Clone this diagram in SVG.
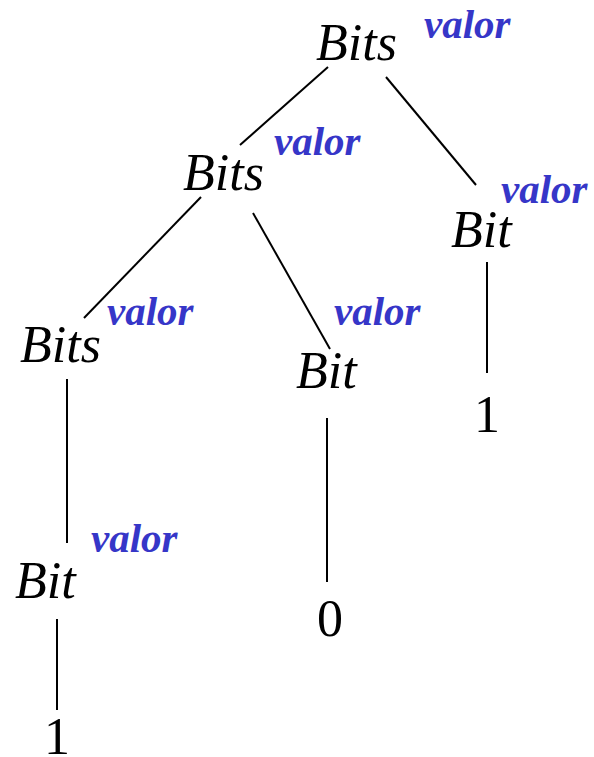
<svg xmlns="http://www.w3.org/2000/svg" width="594" height="757" viewBox="0 0 594 757">
  <style>
    .sym { font-family: "Liberation Serif", "Times New Roman", serif; font-style: italic; font-size: 52px; fill: #000; }
    .leaf { font-family: "Liberation Serif", "Times New Roman", serif; font-size: 52px; fill: #000; text-anchor: middle; }
    .attr { font-family: "Liberation Serif", "Times New Roman", serif; font-style: italic; font-weight: bold; font-size: 41px; fill: #3636c8; }
    .edge { stroke: #000; stroke-width: 2; fill: none; }
  </style>
  <rect width="594" height="757" fill="#fff"/>

  <!-- tree edges -->
  <g id="edges">
    <line class="edge" x1="328" y1="67" x2="240" y2="145"/>
    <line class="edge" x1="386" y1="77" x2="476" y2="185"/>
    <line class="edge" x1="201" y1="197" x2="84" y2="318"/>
    <line class="edge" x1="253" y1="213" x2="330" y2="349"/>
    <line class="edge" x1="67" y1="379" x2="67" y2="543"/>
    <line class="edge" x1="327" y1="418" x2="327" y2="582"/>
    <line class="edge" x1="487" y1="262" x2="487" y2="373"/>
    <line class="edge" x1="57" y1="619" x2="57" y2="710"/>
  </g>

  <!-- root: Bits -->
  <g id="bits-root">
    <text class="sym" x="316" y="60">Bits</text>
    <text class="attr" x="424" y="38">valor</text>
  </g>

  <!-- Bits (left child of root) -->
  <g id="bits-mid">
    <text class="sym" x="183" y="190">Bits</text>
    <text class="attr" x="274" y="155">valor</text>
  </g>

  <!-- Bit (right child of root) -->
  <g id="bit-right">
    <text class="sym" x="451" y="247">Bit</text>
    <text class="attr" x="501" y="203">valor</text>
  </g>

  <!-- Bits (lowest) -->
  <g id="bits-low">
    <text class="sym" x="20" y="362">Bits</text>
    <text class="attr" x="107" y="325">valor</text>
  </g>

  <!-- Bit (middle) -->
  <g id="bit-mid">
    <text class="sym" x="296" y="388">Bit</text>
    <text class="attr" x="334" y="325">valor</text>
  </g>

  <!-- Bit (bottom left) -->
  <g id="bit-low">
    <text class="sym" x="15" y="598">Bit</text>
    <text class="attr" x="91" y="552">valor</text>
  </g>

  <!-- leaf digits -->
  <g id="leaf-right"><text class="leaf" x="487" y="432">1</text></g>
  <g id="leaf-mid"><text class="leaf" x="330" y="636">0</text></g>
  <g id="leaf-low"><text class="leaf" x="57" y="754">1</text></g>
</svg>
